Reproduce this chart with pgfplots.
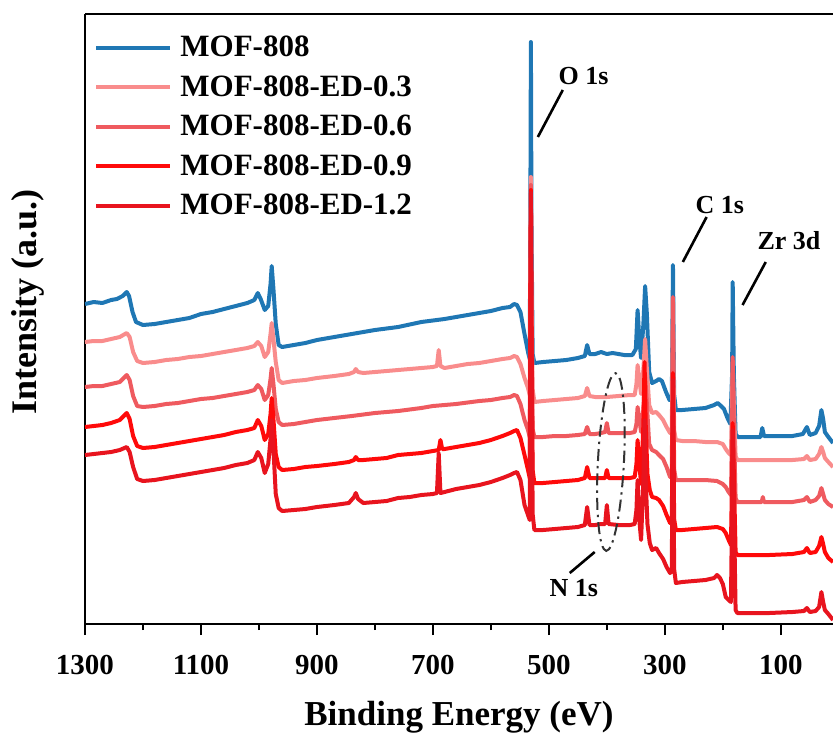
\documentclass[border=0pt]{standalone}
\usepackage{fontspec}
\setmainfont{Liberation Serif}
\usepackage{pgfplots}
\pgfplotsset{compat=1.18}
\usepackage{pgfplotstable}
\usetikzlibrary{calc,shapes.geometric}
\definecolor{cA}{HTML}{1F77B4}
\definecolor{cB}{HTML}{F98C8C}
\definecolor{cC}{HTML}{EF5A5F}
\definecolor{cD}{HTML}{FF0A0A}
\definecolor{cE}{HTML}{E8141E}

\pgfplotstableread{
E I
1300 320
1285 322
1270 321
1255 324
1245 325
1235 328
1228 332
1224 328
1218 312
1212 302
1200 299
1180 300
1160 302
1140 304
1120 306
1100 310
1080 312
1060 315
1040 318
1020 321
1008 324
1002 331
997 325
990 314
984 318
980 340
978 358
975 335
971 300
966 279
960 277
940 279
920 281
900 284
870 287
840 290
800 294
760 297
720 302
680 305
640 309
600 313
580 316
567 317
560 320
555 319
549 312
542 290
536 272
533 265
532 400
531 582
530 400
528 270
525 261
510 262
490 263
470 264
450 266
438 268
434 279
430 270
420 270
410 272
400 270
390 271
370 269
356 269
350 275
347 314
344 285
341 266
337 300
334 338
331 310
327 252
322 241
315 243
310 245
305 243
298 232
292 224
288 225
286 359
284 230
281 214
270 214
250 215
230 216
215 219
209 221
205 219
198 215
192 206
187 200
184 250
183 342
181 250
178 190
174 187
150 187
135 187
132 196
129 188
100 188
80 188
62 190
55 197
50 189
40 191
34 198
30 214
27 205
24 192
18 187
10 181
}\tA

\pgfplotstableread{
E I
1300 282
1285 283
1270 283
1255 285
1240 287
1228 291
1223 287
1217 272
1210 263
1200 261
1180 262
1160 264
1140 265
1120 267
1100 268
1080 270
1060 272
1040 274
1020 276
1008 278
1002 282
996 278
990 267
984 272
980 290
978 301
975 285
971 262
966 244
960 241
940 243
920 244
900 246
870 248
845 250
836 252
833 255
829 252
820 251
800 252
780 253
760 254
740 255
720 256
700 257
693 258
690 274
687 258
680 256
660 258
640 260
620 261
600 263
580 265
567 266
560 268
555 267
549 260
542 246
536 236
533 229
532 330
531 447
530 330
528 235
525 222
510 223
490 224
470 225
450 226
438 228
434 236
430 228
420 227
400 227
380 228
360 229
352 229
349 240
347 259
344 245
341 230
337 255
334 285
331 255
327 219
322 211
315 212
310 209
303 204
297 197
291 191
288 193
286 324
284 194
281 184
270 183
250 183
230 182
210 182
200 180
195 175
190 171
186 169
184 230
183 262
181 220
178 168
175 164
150 164
120 164
80 164
60 165
55 168
50 164
40 165
34 170
30 177
27 172
24 166
18 162
10 157
}\tB

\pgfplotstableread{
E I
1300 237
1285 238
1270 238
1255 240
1240 242
1228 249
1223 244
1217 228
1210 218
1200 217
1180 218
1160 220
1140 221
1120 223
1100 225
1080 226
1060 228
1040 230
1020 232
1008 234
1002 239
996 235
990 224
984 229
980 245
978 256
975 240
971 215
966 202
960 199
940 200
920 202
900 204
870 206
840 208
800 211
760 213
720 216
700 218
660 220
620 223
600 224
580 226
567 227
560 229
555 228
549 220
542 204
536 194
533 187
532 300
531 439
530 300
528 195
525 187
510 187
490 188
470 188
450 189
438 190
434 197
430 190
420 190
410 191
403 192
400 201
397 191
380 191
360 191
352 192
349 200
347 217
344 205
341 192
337 215
334 249
331 220
327 180
322 174
315 172
310 169
303 165
297 157
291 147
288 149
286 327
284 155
281 144
270 144
250 144
230 144
210 143
200 140
195 137
190 132
186 129
184 200
183 267
181 200
178 126
175 122
150 122
133 122
131 127
129 122
100 122
80 122
60 124
55 127
50 122
40 124
34 128
30 136
27 130
24 124
18 120
10 117
}\tC

\pgfplotstableread{
E I
1300 197
1285 198
1270 199
1255 201
1240 204
1228 211
1223 205
1217 188
1210 178
1200 176
1180 177
1160 179
1140 181
1120 183
1100 185
1080 187
1060 189
1040 192
1020 194
1008 196
1002 204
996 198
990 184
984 190
980 210
978 226
975 205
971 170
966 157
960 154
940 155
920 157
900 158
870 160
845 162
836 164
833 167
829 164
820 164
800 165
780 166
760 169
740 170
720 171
700 173
690 174
687 184
684 175
680 175
660 177
640 179
620 181
600 184
580 188
567 191
560 193
555 194
549 186
542 169
536 154
533 146
532 300
531 434
530 300
528 154
525 141
510 141
490 142
470 143
450 144
438 146
434 157
430 146
420 146
410 146
403 146
400 154
397 146
380 146
360 146
352 147
349 160
347 184
344 160
341 140
337 200
335 262
333 200
330 150
326 134
322 127
315 126
310 124
303 118
297 109
291 101
288 103
286 251
284 105
281 94
270 94
250 95
230 96
210 97
200 95
195 91
190 84
186 79
184 150
183 201
181 150
178 72
175 69
150 69
120 69
80 70
60 72
55 76
50 71
40 72
34 78
30 87
27 80
24 72
18 66
10 62
}\tD

\pgfplotstableread{
E I
1300 169
1285 170
1270 171
1255 172
1240 174
1228 177
1223 172
1217 157
1210 145
1200 143
1180 144
1160 146
1140 148
1120 150
1100 152
1080 154
1060 156
1040 159
1020 161
1008 164
1002 172
996 166
990 151
984 160
980 185
978 204
975 175
971 130
966 116
960 113
940 114
920 115
900 117
870 119
845 121
836 127
833 131
829 125
820 121
800 122
780 123
760 126
740 127
720 129
700 130
693 131
690 171
687 131
680 132
660 135
640 137
620 139
600 142
580 146
567 149
560 151
555 152
549 144
542 119
536 109
533 104
532 300
531 431
530 300
528 110
525 94
510 94
490 95
470 96
450 97
438 99
434 117
430 99
420 99
410 100
403 100
400 119
397 100
380 99
360 99
352 100
349 114
347 144
344 104
341 84
337 144
335 204
333 144
330 100
326 81
322 74
315 76
310 71
303 65
297 57
291 51
288 53
286 244
284 55
281 41
270 42
250 43
230 44
215 46
210 49
205 46
200 40
195 27
190 24
186 22
184 120
183 194
181 120
178 14
175 11
150 11
120 11
80 12
60 13
55 16
50 12
40 13
34 17
30 32
27 22
24 14
18 10
10 4
}\tE

\begin{document}
\begin{tikzpicture}
\begin{axis}[
  at={(0,0)}, anchor=south west,
  scale only axis, width=374pt, height=305pt,
  x dir=reverse, xmin=10, xmax=1300, ymin=0, ymax=610,
  axis x line=box, axis y line=left,
  axis line style={-, line width=1.3pt},
  xtick={100,300,500,700,900,1100,1300},
  minor xtick={200,400,600,800,1000,1200},
  xtick pos=left, ytick=\empty,
  tick align=outside, major tick length=5.5pt, minor tick length=3pt,
  every tick/.append style={black, line width=1.3pt},
  /pgf/number format/assume math mode=true,
  /pgf/number format/1000 sep={},
  tick label style={font=\fontsize{14.5}{17}\selectfont\bfseries},
  xticklabel style={yshift=-6.5pt},
  xlabel={Binding Energy (eV)},
  ylabel={Intensity (a.u.)},
  every axis x label/.style={at={(axis description cs:0.5,-0.1525)}, anchor=center, font=\fontsize{17.5}{20}\selectfont\bfseries},
  every axis y label/.style={at={(axis description cs:-0.0762,0.528)}, anchor=center, rotate=90, font=\fontsize{18}{21}\selectfont\bfseries},
  legend style={at={(axis description cs:0.004,0.978)}, anchor=north west, draw=none, fill=none,
     font=\fontsize{15.5}{18}\selectfont\bfseries, row sep=4pt, column sep=2pt, cells={anchor=west}},
  legend image code/.code={\draw[#1] (0pt,0pt) -- (37pt,0pt);},
  every axis plot/.append style={line width=2pt, line join=round},
]
\addplot[cA] table[x=E,y=I]{\tA};
\addlegendentry{MOF-808}
\addplot[cB] table[x=E,y=I]{\tB};
\addlegendentry{MOF-808-ED-0.3}
\addplot[cC] table[x=E,y=I]{\tC};
\addlegendentry{MOF-808-ED-0.6}
\addplot[cD] table[x=E,y=I]{\tD};
\addlegendentry{MOF-808-ED-0.9}
\addplot[cE] table[x=E,y=I]{\tE};
\addlegendentry{MOF-808-ED-1.2}

\draw[line width=1.3pt] (axis cs:476,534) -- (axis cs:519,487);
\node[font=\fontsize{13}{15}\selectfont\bfseries] at (axis cs:440,548) {O 1s};
\draw[line width=1.3pt] (axis cs:228,407) -- (axis cs:269,362);
\node[font=\fontsize{13}{15}\selectfont\bfseries] at (axis cs:205,419) {C 1s};
\draw[line width=1.3pt] (axis cs:126,362) -- (axis cs:166,319);
\node[font=\fontsize{13}{15}\selectfont\bfseries] at (axis cs:86,383) {Zr 3d};
\draw[line width=1.3pt] (axis cs:464,51) -- (axis cs:421,72);
\node[font=\fontsize{13}{15}\selectfont\bfseries] at (axis cs:457,36) {N 1s};
\node[draw=black!80, line width=1pt, dash pattern=on 6pt off 2.5pt on 1.2pt off 2.5pt, ellipse, minimum width=13pt, minimum height=89pt, inner sep=0pt, rotate=-3] at (axis cs:393,162) {};
\end{axis}
\pgfresetboundingbox
\path[use as bounding box] ($(current axis.south west)+(-42.5pt,-56pt)$) rectangle ($(current axis.north east)+(0pt,7pt)$);
\end{tikzpicture}
\end{document}
